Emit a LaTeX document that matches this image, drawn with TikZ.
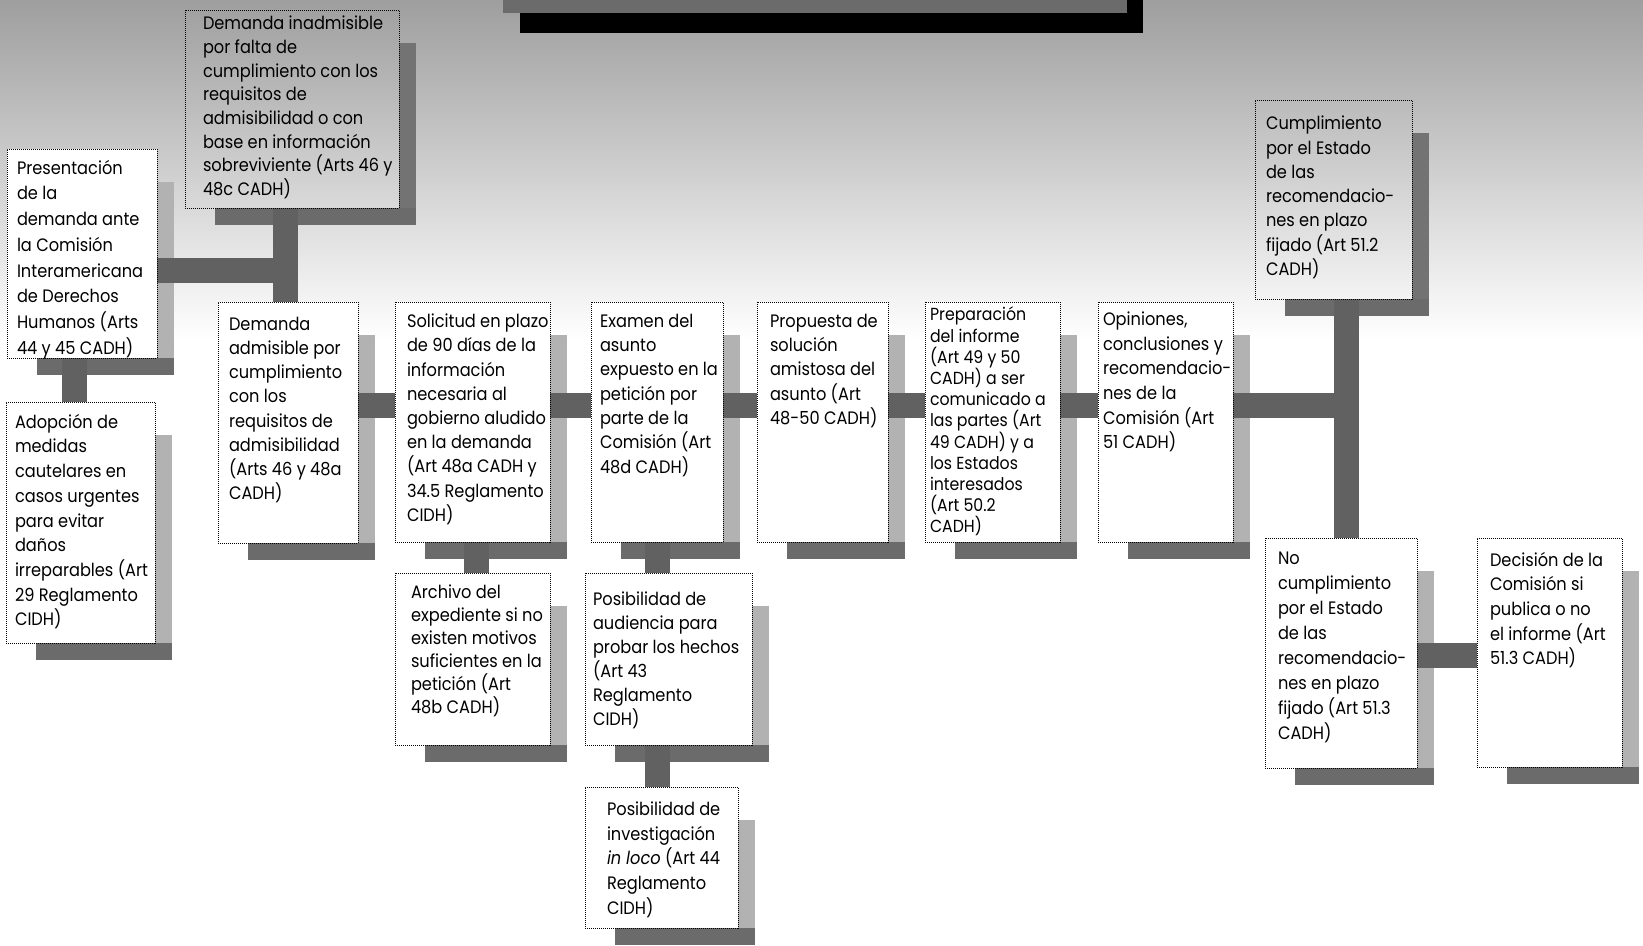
\documentclass[tikz,border=0pt]{standalone}
\usepackage{fontspec}
\setmainfont[FakeStretch=0.9]{Poppins}
\usetikzlibrary{calc}
\pgfdeclarelayer{bg}
\pgfdeclarelayer{shad}
\pgfdeclarelayer{bars}
\pgfsetlayers{bg,shad,bars,main}
\tikzset{
  boxw/.style={draw=black, densely dotted, line width=1pt, fill=white, inner sep=0pt, outer sep=0pt},
  boxg/.style={draw=black, densely dotted, line width=1pt, inner sep=0pt, outer sep=0pt},
  boxw-rs/.style={fill=black!30},
  boxg-rs/.style={fill=black!55},
  bshadow/.style={fill=black!58},
  bar/.style={line width=25pt, draw=black!62, line cap=butt},
  txt/.style={anchor=north west, align=left, inner sep=0pt, outer sep=0pt},
}
\newcommand\procbox[9]{%
  \begin{pgfonlayer}{shad}
    \fill[#6-rs] (#4,#3+33) rectangle (#4+17,#5+17);
    \fill[bshadow] (#2+30,#5) rectangle (#4+17,#5+17);
  \end{pgfonlayer}
  \node[#6, minimum width={#4-#2}, minimum height={#5-#3}, anchor=north west] (#1) at (#2,#3) {};
  \node[txt, #8] (#1-t) at #7 {#9};
}
\begin{document}
\begin{tikzpicture}[x=1pt, y=-1pt]
\useasboundingbox (0,0) rectangle (1643,945);
\begin{pgfonlayer}{bg}
  \fill[white] (0,0) rectangle (1643,945);
  \shade[top color=black!38, bottom color=white] (0,0) rectangle (1643,340);
  \fill[black!58] (503,0) rectangle (1143,13);
  \fill[black] (520,13) rectangle (1143,33);
  \fill[black] (1127,0) rectangle (1143,13);
\end{pgfonlayer}

\procbox{dina}{185}{10}{399}{208}{boxg}{(203,16)}{font=\fontsize{18}{23.7}\selectfont}{Demanda inadmisible\\ por falta de\\ cumplimiento con los\\ requisitos de\\ admisibilidad o con\\ base en información\\ sobreviviente (Arts 46 y\\ 48c  CADH)}
\procbox{pres}{7}{149}{157}{358}{boxw}{(17,160)}{font=\fontsize{18}{25.7}\selectfont}{Presentación\\ de la\\ demanda ante\\ la Comisión\\ Interamericana\\ de Derechos\\ Humanos (Arts\\ 44 y 45 CADH)}
\procbox{adop}{6}{402}{155}{643}{boxw}{(15,414)}{font=\fontsize{18}{24.7}\selectfont}{Adopción de\\ medidas\\ cautelares en\\ casos urgentes\\ para evitar\\ daños\\ irreparables (Art\\ 29 Reglamento\\ CIDH)}
\procbox{dadm}{218}{302}{358}{543}{boxw}{(229,317)}{font=\fontsize{18}{24.2}\selectfont}{Demanda\\ admisible por\\ cumplimiento\\ con los\\ requisitos de\\ admisibilidad\\ (Arts 46 y 48a\\ CADH)}
\procbox{sol}{395}{302}{550}{542}{boxw}{(407,314)}{font=\fontsize{18}{24.2}\selectfont}{Solicitud en plazo\\ de 90 días de la\\ información\\ necesaria al\\ gobierno aludido\\ en la demanda\\ (Art 48a CADH y\\ 34.5 Reglamento\\ CIDH)}
\procbox{exam}{591}{302}{723}{542}{boxw}{(600,314)}{font=\fontsize{18}{24.3}\selectfont}{Examen del\\ asunto\\ expuesto en la\\ petición por\\ parte de la\\ Comisión (Art\\ 48d CADH)}
\procbox{prop}{757}{302}{888}{542}{boxw}{(770,314)}{font=\fontsize{18}{24.3}\selectfont}{Propuesta de\\ solución\\ amistosa del\\ asunto (Art\\ 48-50 CADH)}
\procbox{prep}{925}{302}{1060}{542}{boxw}{(930,307)}{font=\fontsize{17.5}{21.2}\selectfont}{Preparación\\ del informe\\ (Art 49 y 50\\ CADH) a ser\\ comunicado a\\ las partes (Art\\ 49 CADH) y a\\ los Estados\\ interesados\\ (Art 50.2\\ CADH)}
\procbox{opin}{1098}{302}{1233}{542}{boxw}{(1103,312)}{font=\fontsize{18}{24.6}\selectfont}{Opiniones,\\ conclusiones y\\ recomendacio-\\ nes de la\\ Comisión (Art\\ 51 CADH)}
\procbox{cump}{1255}{100}{1412}{299}{boxg}{(1266,116)}{font=\fontsize{18}{24.3}\selectfont}{Cumplimiento\\ por el Estado\\ de las\\ recomendacio-\\ nes en plazo\\ fijado (Art 51.2\\ CADH)}
\procbox{arch}{395}{573}{550}{745}{boxw}{(411,585)}{font=\fontsize{18}{23}\selectfont}{Archivo del\\ expediente si no\\ existen motivos\\ suficientes en la\\ petición (Art\\ 48b CADH)}
\procbox{aud}{585}{573}{752}{745}{boxw}{(593,592)}{font=\fontsize{18}{24}\selectfont}{Posibilidad de\\ audiencia para\\ probar los hechos\\ (Art 43\\ Reglamento\\ CIDH)}
\procbox{inv}{585}{787}{738}{928}{boxw}{(607,802)}{font=\fontsize{18}{24.6}\selectfont}{Posibilidad de\\ investigación\\ \textit{in loco} (Art 44\\ Reglamento\\ CIDH)}
\procbox{nocump}{1265}{538}{1417}{768}{boxw}{(1278,552)}{font=\fontsize{18}{25}\selectfont}{No\\ cumplimiento\\ por el Estado\\ de las\\ recomendacio-\\ nes en plazo\\ fijado (Art 51.3\\ CADH)}
\procbox{dec}{1477}{538}{1622}{767}{boxw}{(1490,552)}{font=\fontsize{18}{24.6}\selectfont}{Decisión de la\\ Comisión si\\ publica o no\\ el informe (Art\\ 51.3 CADH)}

\coordinate (mainy) at (0,405.5);
\coordinate (presy) at (0,270.5);
\coordinate (lvx) at (285,0);
\coordinate (px) at (74,0);
\coordinate (ax) at (476.5,0);
\coordinate (ex) at (657.5,0);
\coordinate (cvx) at (1346,0);
\coordinate (dy) at (0,655);

\begin{pgfonlayer}{bars}
  \draw[bar] (pres.east |- presy) -- (lvx |- presy);
  \draw[bar] (dina.south -| lvx) -- (dadm.north -| lvx);
  \draw[bar] (pres.south -| px) -- (adop.north -| px);
  \draw[bar] (dadm.east |- mainy) -- (sol.west |- mainy);
  \draw[bar] (sol.east |- mainy) -- (exam.west |- mainy);
  \draw[bar] (exam.east |- mainy) -- (prop.west |- mainy);
  \draw[bar] (prop.east |- mainy) -- (prep.west |- mainy);
  \draw[bar] (prep.east |- mainy) -- (opin.west |- mainy);
  \draw[bar] (opin.east |- mainy) -- (cvx |- mainy);
  \draw[bar] (cump.south -| cvx) -- (nocump.north -| cvx);
  \draw[bar] (nocump.east |- dy) -- (dec.west |- dy);
  \draw[bar] (sol.south -| ax) -- (arch.north -| ax);
  \draw[bar] (exam.south -| ex) -- (aud.north -| ex);
  \draw[bar] (aud.south -| ex) -- (inv.north -| ex);
\end{pgfonlayer}
\end{tikzpicture}
\end{document}
